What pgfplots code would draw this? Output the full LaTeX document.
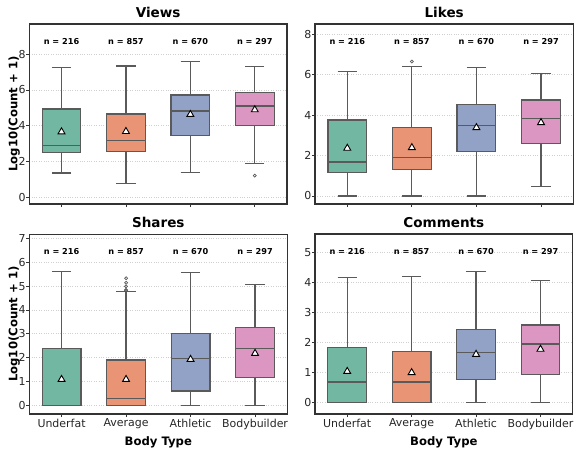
\documentclass[border=0pt]{standalone}
\usepackage{pgfplots}
\pgfplotsset{compat=1.18}
\usepgfplotslibrary{statistics}
\usepackage{fontspec}
\setmainfont{DejaVu Sans}

% seaborn Set2 palette, desaturated
\definecolor{cUnder}{HTML}{71B7A1}
\definecolor{cAvg}{HTML}{E99475}
\definecolor{cAth}{HTML}{92A2C6}
\definecolor{cBody}{HTML}{DB96C1}
\definecolor{edge}{HTML}{5A5A5A}
\definecolor{spine}{HTML}{333333}
\definecolor{gridc}{HTML}{D0D0D0}
\definecolor{txt}{HTML}{262626}

% one prepared box: position, colour, lower whisker, Q1, median, Q3, upper whisker, outliers
\newcommand{\bx}[8]{%
  \addplot[fill=#2, draw=edge, line width=1.2bp,
    mark=o, mark size=1.5bp, mark options={draw=edge, fill=none, line width=0.7bp},
    boxplot prepared={draw direction=y, draw position=#1,
      lower whisker=#3, lower quartile=#4,
      median=#5, upper quartile=#6, upper whisker=#7,
      box extend=0.6, whisker extend=0.3,
      every median/.style={line width=1.5bp, draw=edge}}]
    coordinates {#8};}

\pgfplotsset{
  panel/.style={
    scale only axis, anchor=south west,
    xmin=-0.5, xmax=3.5,
    xtick={0,1,2,3},
    xtick pos=bottom, ytick pos=left,
    tick align=outside, major tick length=3bp,
    tick style={draw=spine, line width=0.8bp},
    axis line style={draw=spine, line width=1.1bp},
    ymajorgrids, xmajorgrids=false,
    grid style={draw=gridc, dotted, line width=0.7bp},
    every tick label/.append style={font=\fontsize{11}{13}\selectfont, text=txt},
    yticklabel style={inner xsep=0.5bp},
    xticklabel style={inner ysep=1.5bp},
    /pgf/number format/assume math mode=true,
    every axis title/.style={at={(axis description cs:0.5,1)}, anchor=base, yshift=6.7bp,
      font=\fontsize{13.6}{15}\selectfont\bfseries},
    xlabel style={font=\fontsize{11.7}{13}\selectfont\bfseries},
    ylabel style={font=\fontsize{11.7}{13}\selectfont\bfseries},
    clip=false,
  },
  nlab/.style={only marks, mark=none,
    nodes near coords, point meta=explicit symbolic,
    every node near coord/.append style={anchor=center,
      font=\fontsize{8.2}{10}\selectfont\bfseries}},
  meanmk/.style={only marks, mark=triangle*, mark size=4bp,
    mark options={fill=white, draw=black, line width=0.9bp}},
  leftlab/.style={ylabel={Log10(Count + 1)},
    ylabel style={at={(axis description cs:-0.0466,0.5)}, anchor=base}},
  bottomlab/.style={xticklabels={Underfat,Average,Athletic,Bodybuilder},
    xlabel={Body Type},
    xlabel style={at={(axis description cs:0.5,0)}, anchor=base, yshift=-31.3bp}},
}

\begin{document}
\begin{tikzpicture}
\useasboundingbox (0,0) rectangle (580bp,454bp);

% ---------------- Views ----------------
\begin{axis}[panel, leftlab, at={(29.3bp,250bp)}, width=257.7bp, height=180bp,
  title={Views}, ymin=-0.37, ymax=9.68, ytick={0,2,4,6,8},
  xticklabels={,,,}]
\bx{0}{cUnder}{1.36}{2.52}{2.89}{4.93}{7.24}{}
\bx{1}{cAvg}{0.78}{2.57}{3.17}{4.65}{7.33}{}
\bx{2}{cAth}{1.38}{3.47}{4.81}{5.71}{7.59}{}
\bx{3}{cBody}{1.90}{4.01}{5.11}{5.84}{7.31}{(3,1.21)}
\addplot[meanmk] coordinates {(0,3.66) (1,3.68) (2,4.63) (3,4.89)};
\addplot[nlab] coordinates {(0,8.7)[n = 216] (1,8.7)[n = 857] (2,8.7)[n = 670] (3,8.7)[n = 297]};
\end{axis}

% ---------------- Likes ----------------
\begin{axis}[panel, at={(315bp,250bp)}, width=258.3bp, height=180bp,
  title={Likes}, ymin=-0.40, ymax=8.51, ytick={0,2,4,6,8},
  xticklabels={,,,}]
\bx{0}{cUnder}{0}{1.17}{1.67}{3.76}{6.15}{}
\bx{1}{cAvg}{0}{1.32}{1.91}{3.40}{6.40}{(1,6.65)}
\bx{2}{cAth}{0}{2.19}{3.48}{4.52}{6.37}{}
\bx{3}{cBody}{0.48}{2.59}{3.84}{4.75}{6.07}{}
\addplot[meanmk] coordinates {(0,2.36) (1,2.39) (2,3.38) (3,3.63)};
\addplot[nlab] coordinates {(0,7.65)[n = 216] (1,7.65)[n = 857] (2,7.65)[n = 670] (3,7.65)[n = 297]};
\end{axis}

% ---------------- Shares ----------------
\begin{axis}[panel, leftlab, bottomlab, at={(29.3bp,40bp)}, width=258bp, height=179.7bp,
  title={Shares}, ymin=-0.36, ymax=7.17, ytick={0,1,2,3,4,5,6,7}]
\bx{0}{cUnder}{0}{0}{0}{2.39}{5.60}{}
\bx{1}{cAvg}{0}{0}{0.29}{1.90}{4.79}{(1,4.81) (1,4.84) (1,4.99) (1,5.14) (1,5.33)}
\bx{2}{cAth}{0}{0.60}{1.96}{3.00}{5.57}{}
\bx{3}{cBody}{0}{1.17}{2.39}{3.27}{5.06}{}
\addplot[meanmk] coordinates {(0,1.09) (1,1.09) (2,1.93) (3,2.18)};
\addplot[nlab] coordinates {(0,6.45)[n = 216] (1,6.45)[n = 857] (2,6.45)[n = 670] (3,6.45)[n = 297]};
\end{axis}

% ---------------- Comments ----------------
\begin{axis}[panel, bottomlab, at={(315bp,40bp)}, width=257.7bp, height=180bp,
  title={Comments}, ymin=-0.38, ymax=5.62, ytick={0,1,2,3,4,5}]
\bx{0}{cUnder}{0}{0}{0.69}{1.84}{4.17}{}
\bx{1}{cAvg}{0}{0}{0.69}{1.70}{4.21}{}
\bx{2}{cAth}{0}{0.78}{1.67}{2.44}{4.38}{}
\bx{3}{cBody}{0}{0.94}{1.96}{2.59}{4.08}{}
\addplot[meanmk] coordinates {(0,1.04) (1,1.00) (2,1.61) (3,1.78)};
\addplot[nlab] coordinates {(0,5.05)[n = 216] (1,5.05)[n = 857] (2,5.05)[n = 670] (3,5.05)[n = 297]};
\end{axis}
\end{tikzpicture}
\end{document}
